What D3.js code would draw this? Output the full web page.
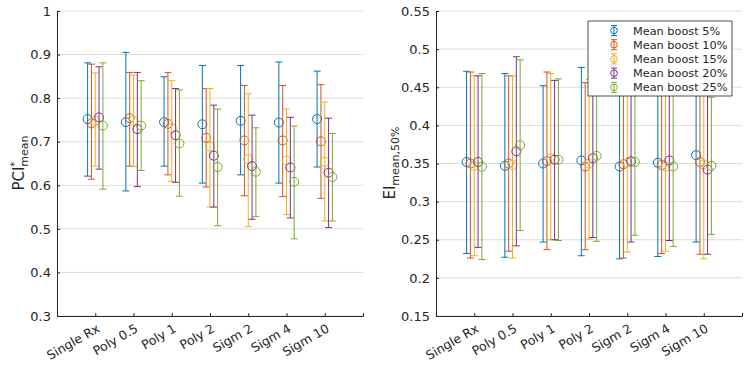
<!DOCTYPE html>
<html>
<head>
<meta charset="utf-8">
<script src="https://cdn.jsdelivr.net/npm/d3@7"></script>
<style>
  body { margin: 0; background: #fff; }
  text { font-family: "DejaVu Sans", sans-serif; fill: #262626; }
</style>
</head>
<body>
<div id="chart"></div>
<script>
const categories = ["Single Rx", "Poly 0.5", "Poly 1", "Poly 2", "Sigm 2", "Sigm 4", "Sigm 10"];
const seriesNames = ["Mean boost 5%", "Mean boost 10%", "Mean boost 15%", "Mean boost 20%", "Mean boost 25%"];
const seriesColors = ["#0072BD", "#D95319", "#EDB120", "#7E2F8E", "#77AC30"];

// left panel: PCI* mean (rows = series, columns = categories)
const pciMean = [
  [0.752, 0.745, 0.745, 0.740, 0.748, 0.744, 0.752],
  [0.742, 0.754, 0.741, 0.709, 0.703, 0.703, 0.701],
  [0.748, 0.748, 0.731, 0.689, 0.660, 0.657, 0.654],
  [0.756, 0.729, 0.715, 0.668, 0.644, 0.641, 0.629],
  [0.737, 0.737, 0.696, 0.642, 0.631, 0.608, 0.619]
];
const pciHigh = [
  [0.881, 0.905, 0.849, 0.875, 0.875, 0.883, 0.862],
  [0.878, 0.859, 0.859, 0.822, 0.829, 0.829, 0.831],
  [0.858, 0.853, 0.840, 0.822, 0.810, 0.775, 0.791],
  [0.872, 0.859, 0.822, 0.784, 0.761, 0.756, 0.754],
  [0.881, 0.840, 0.819, 0.775, 0.732, 0.736, 0.719]
];
const pciLow = [
  [0.621, 0.587, 0.644, 0.605, 0.624, 0.605, 0.642],
  [0.614, 0.644, 0.624, 0.596, 0.576, 0.574, 0.570],
  [0.644, 0.643, 0.609, 0.550, 0.505, 0.533, 0.518],
  [0.637, 0.597, 0.607, 0.550, 0.522, 0.525, 0.503],
  [0.591, 0.634, 0.575, 0.507, 0.528, 0.477, 0.518]
];
const pciTicks = [0.3, 0.4, 0.5, 0.6, 0.7, 0.8, 0.9, 1];

// right panel: EI mean,50%
const eiMean = [
  [0.352, 0.347, 0.350, 0.354, 0.346, 0.351, 0.361],
  [0.350, 0.350, 0.353, 0.346, 0.349, 0.348, 0.352],
  [0.347, 0.348, 0.357, 0.350, 0.351, 0.346, 0.349],
  [0.352, 0.366, 0.355, 0.357, 0.353, 0.354, 0.342],
  [0.346, 0.374, 0.355, 0.360, 0.352, 0.346, 0.347]
];
const eiHigh = [
  [0.471, 0.468, 0.452, 0.476, 0.470, 0.470, 0.460],
  [0.470, 0.465, 0.470, 0.456, 0.465, 0.465, 0.465],
  [0.465, 0.465, 0.468, 0.460, 0.460, 0.460, 0.460],
  [0.465, 0.490, 0.459, 0.455, 0.455, 0.455, 0.455],
  [0.468, 0.486, 0.461, 0.455, 0.450, 0.450, 0.437]
];
const eiLow = [
  [0.232, 0.227, 0.247, 0.229, 0.225, 0.228, 0.247],
  [0.226, 0.235, 0.237, 0.237, 0.226, 0.232, 0.231],
  [0.229, 0.226, 0.250, 0.251, 0.234, 0.235, 0.225],
  [0.240, 0.242, 0.250, 0.253, 0.247, 0.249, 0.231],
  [0.224, 0.262, 0.249, 0.248, 0.256, 0.241, 0.257]
];
const eiTicks = [0.15, 0.2, 0.25, 0.3, 0.35, 0.4, 0.45, 0.5, 0.55];

const svg = d3.select("#chart").append("svg")
  .attr("width", 750)
  .attr("height", 365);

function panel(opts) {
  const { left, top, width, height, mean, low, high, ticks, domain } = opts;
  const g = svg.append("g").attr("transform", `translate(${left},${top})`);

  const x = d3.scaleLinear().domain([0, categories.length + 1]).range([0, width]);
  const y = d3.scaleLinear().domain(domain).range([height, 0]);

  // grid
  g.append("g").selectAll("line").data(ticks).join("line")
    .attr("x1", 0).attr("x2", width)
    .attr("y1", d => y(d)).attr("y2", d => y(d))
    .attr("stroke", "#dcdcdc").attr("stroke-width", 1);

  // error bars, series by series
  seriesNames.forEach((name, j) => {
    const off = (j - 2) * 0.1;
    const sg = g.append("g").attr("stroke", seriesColors[j]).attr("fill", "none");
    const rows = categories.map((c, i) => ({ i, m: mean[j][i], lo: low[j][i], hi: high[j][i] }));
    sg.selectAll(".v").data(rows).join("line")
      .attr("x1", d => x(d.i + 1 + off)).attr("x2", d => x(d.i + 1 + off))
      .attr("y1", d => y(d.lo)).attr("y2", d => y(d.hi));
    ["lo", "hi"].forEach(k => {
      sg.selectAll(".c" + k).data(rows).join("line")
        .attr("x1", d => x(d.i + 1 + off) - 3.5).attr("x2", d => x(d.i + 1 + off) + 3.5)
        .attr("y1", d => y(d[k])).attr("y2", d => y(d[k]));
    });
    sg.selectAll("circle").data(rows).join("circle")
      .attr("cx", d => x(d.i + 1 + off)).attr("cy", d => y(d.m))
      .attr("r", 4.5).attr("stroke-width", 1);
  });

  // axes
  const yAxis = d3.axisLeft(y).tickValues(ticks).tickSize(-3).tickPadding(6)
    .tickFormat(d => d3.format("~g")(d));
  const ya = g.append("g").call(yAxis);
  ya.select(".domain").attr("stroke", "#262626");
  ya.selectAll(".tick line").attr("stroke", "#262626");
  ya.selectAll("text").style("font-size", "13px").attr("fill", "#262626");

  const xAxis = d3.axisBottom(x).tickValues(d3.range(1, categories.length + 1))
    .tickSize(-3).tickFormat(d => categories[d - 1]);
  const xa = g.append("g").attr("transform", `translate(0,${height})`).call(xAxis);
  xa.select(".domain").attr("stroke", "#262626");
  xa.selectAll(".tick line").attr("stroke", "#262626");
  xa.selectAll("text")
    .style("font-size", "12.5px")
    .attr("fill", "#262626")
    .attr("text-anchor", "end")
    .attr("y", 0).attr("dy", 0)
    .attr("transform", "translate(5,15) rotate(-30)");

  return { g, x, y };
}

const L = panel({ left: 57, top: 11, width: 306, height: 305,
  mean: pciMean, low: pciLow, high: pciHigh, ticks: pciTicks, domain: [0.3, 1] });
const R = panel({ left: 436, top: 11, width: 306, height: 305,
  mean: eiMean, low: eiLow, high: eiHigh, ticks: eiTicks, domain: [0.15, 0.55] });

// y labels
const yl1 = svg.append("text")
  .attr("transform", "translate(24,163) rotate(-90)")
  .attr("text-anchor", "middle")
  .style("font-size", "15px");
yl1.append("tspan").text("PCI");
yl1.append("tspan").text("*").style("font-size", "10px").attr("dy", -6);
yl1.append("tspan").text("mean").style("font-size", "11px").attr("dx", -5).attr("dy", 10);

const yl2 = svg.append("text")
  .attr("transform", "translate(395,163) rotate(-90)")
  .attr("text-anchor", "middle")
  .style("font-size", "15px");
yl2.append("tspan").text("EI");
yl2.append("tspan").text("mean,50%").style("font-size", "11px").attr("dy", 4);

// legend
const lg = svg.append("g").attr("transform", "translate(588,21)");
lg.append("rect").attr("width", 144).attr("height", 75)
  .attr("fill", "#fff").attr("stroke", "#262626").attr("stroke-width", 0.8);
seriesNames.forEach((name, j) => {
  const cy = 9.5 + j * 14.2;
  const e = lg.append("g").attr("stroke", seriesColors[j]).attr("fill", "none");
  e.append("line").attr("x1", 26).attr("x2", 26).attr("y1", cy - 5).attr("y2", cy + 5);
  e.append("line").attr("x1", 23).attr("x2", 29).attr("y1", cy - 5).attr("y2", cy - 5);
  e.append("line").attr("x1", 23).attr("x2", 29).attr("y1", cy + 5).attr("y2", cy + 5);
  e.append("circle").attr("cx", 26).attr("cy", cy).attr("r", 3.3);
  lg.append("text").attr("x", 45).attr("y", cy + 4)
    .style("font-size", "11.3px").text(name);
});
</script>
</body>
</html>
